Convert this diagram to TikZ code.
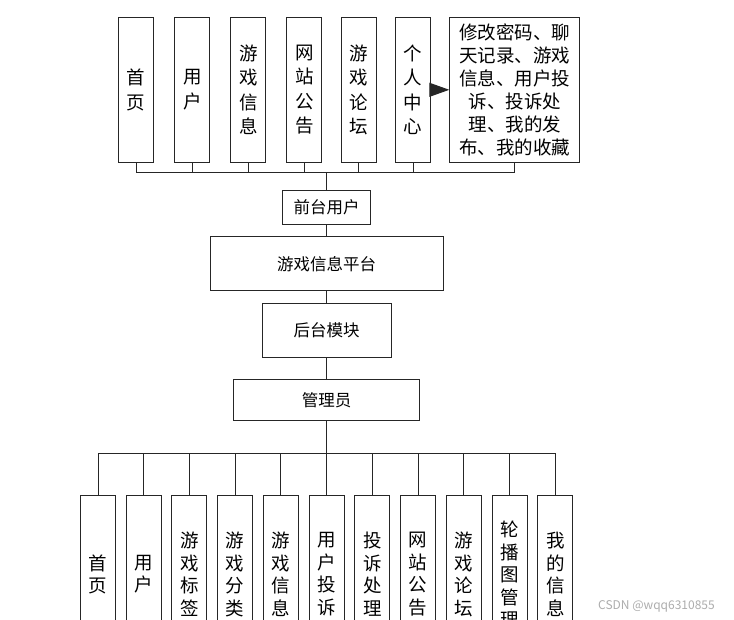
\documentclass[tikz,border=0pt]{standalone}
\usepackage{fontspec}
\setmainfont{Noto Sans CJK SC}
\usetikzlibrary{arrows.meta}
\begin{document}
\begin{tikzpicture}[x=1pt,y=-1pt,
  box/.style={draw=black!85, line width=1pt, fill=white, inner sep=0pt, align=center},
  vbox/.style={box, minimum width=35pt, minimum height=145pt, font=\fontsize{18.5}{24.5}\selectfont},
  lbox/.style={box, minimum width=35pt, minimum height=158pt, font=\fontsize{18.5}{22.5}\selectfont},
  mbox/.style={box, font=\fontsize{16.5}{20}\selectfont},
  link/.style={draw=black!85, line width=1pt}]
\useasboundingbox (0,0) rectangle (734,619);
\clip (0,0) rectangle (734,619);
\fill[white] (0,0) rectangle (734,619);
% top row
\node[vbox] (t1) at (136,89.8) {首\\页};
\node[vbox] (t2) at (192.3,89.8) {用\\户};
\node[vbox] (t3) at (248.4,89.8) {游\\戏\\信\\息};
\node[vbox] (t4) at (304.4,89.8) {网\\站\\公\\告};
\node[vbox] (t5) at (358.5,89.8) {游\\戏\\论\\坛};
\node[vbox] (t6) at (413.2,89.8) {个\\人\\中\\心};
\node[box, minimum width=130pt, minimum height=145pt, font=\fontsize{18.5}{23}\selectfont] (t7) at (514.8,89.8) {修改密码、聊\\天记录、游戏\\信息、用户投\\诉、投诉处\\理、我的发\\布、我的收藏};
% middle column
\node[mbox, minimum width=88pt, minimum height=34pt] (qt) at (326.7,207.2) {前台用户};
\node[mbox, minimum width=233pt, minimum height=54pt] (pt) at (326.7,263.7) {游戏信息平台};
\node[mbox, minimum width=129pt, minimum height=54pt] (ht) at (326.7,330.2) {后台模块};
\node[mbox, minimum width=186pt, minimum height=41pt] (gl) at (326.7,400.4) {管理员};
% bottom row
\node[lbox] (b1) at (98,574.3) {首\\页};
\node[lbox] (b2) at (143.7,574.3) {用\\户};
\node[lbox] (b3) at (189.4,574.3) {游\\戏\\标\\签};
\node[lbox] (b4) at (235.2,574.3) {游\\戏\\分\\类};
\node[lbox] (b5) at (280.9,574.3) {游\\戏\\信\\息};
\node[lbox] (b6) at (326.7,574.3) {用\\户\\投\\诉};
\node[lbox] (b7) at (372.4,574.3) {投\\诉\\处\\理};
\node[lbox] (b8) at (418.1,574.3) {网\\站\\公\\告};
\node[lbox] (b9) at (463.8,574.3) {游\\戏\\论\\坛};
\node[lbox] (b10) at (509.6,574.3) {轮\\播\\图\\管\\理};
\node[lbox] (b11) at (555.3,574.3) {我\\的\\信\\息};
% connectors
\coordinate (bt) at (326.7,172.8);
\coordinate (bb) at (326.7,453.3);
\foreach \n in {t1,t2,t3,t4,t5,t6,t7} \draw[link] (\n.south) |- (bt);
\draw[link] (bt) -- (qt.north);
\draw[link, -{Triangle[length=20pt,width=14pt]}] (t6.east) -- (t7.west);
\draw[link] (qt.south) -- (pt.north);
\draw[link] (pt.south) -- (ht.north);
\draw[link] (ht.south) -- (gl.north);
\draw[link] (gl.south) -- (bb);
\foreach \n in {b1,b2,b3,b4,b5,b6,b7,b8,b9,b10,b11} \draw[link] (\n.north) |- (bb);
% watermark
\node[text=black!32, font=\fontsize{12}{14}\selectfont] (wm) at (656.5,606) {CSDN @wqq6310855};
\end{tikzpicture}
\end{document}
